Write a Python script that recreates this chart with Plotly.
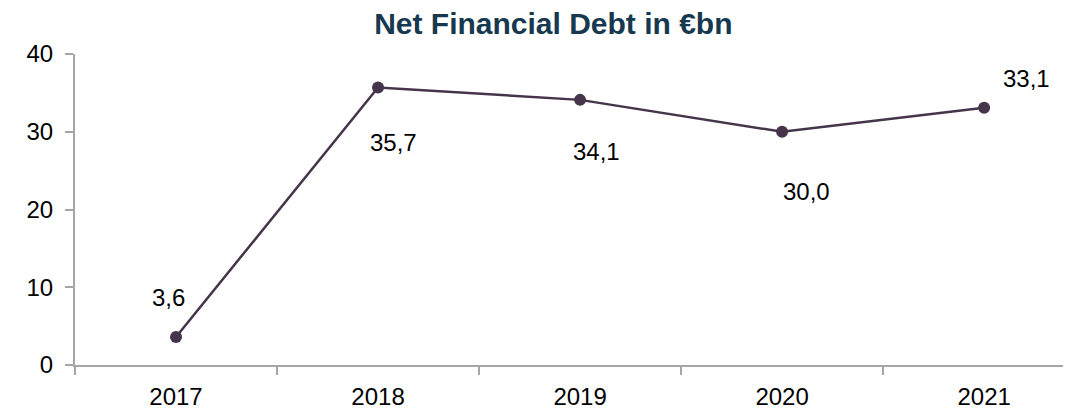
import plotly.graph_objects as go

years = ["2017", "2018", "2019", "2020", "2021"]
debt = [3.6, 35.7, 34.1, 30.0, 33.1]
labels = ["3,6", "35,7", "34,1", "30,0", "33,1"]
label_dx = [-8, 15, 16, 24, 42]
label_dy = [-40, 55, 52, 60, -29]

line_color = "#45344A"
axis_color = "#A6A6A6"
font_family = "Liberation Sans, Arial, sans-serif"

fig = go.Figure()
fig.add_trace(go.Scatter(
    x=years, y=debt, mode="lines+markers",
    line=dict(color=line_color, width=2.5),
    marker=dict(color=line_color, size=12),
    hoverinfo="skip", showlegend=False,
))

annotations = []
for i, (yv, t, dx, dy) in enumerate(zip(debt, labels, label_dx, label_dy)):
    annotations.append(dict(
        x=i, y=yv, xref="x", yref="y", text=t, showarrow=False,
        xshift=dx, yshift=-dy, xanchor="center", yanchor="middle",
        font=dict(size=24, color="#000000", family=font_family)))

fig.update_layout(
    width=1063, height=401,
    margin=dict(l=67, r=0, t=46, b=44, autoexpand=False),
    paper_bgcolor="white", plot_bgcolor="white",
    title=dict(text="<b>Net Financial Debt in €bn</b>", x=0.513, xanchor="center",
               y=0.962, yanchor="middle",
               font=dict(size=30, color="#17394F", family=font_family)),
    font=dict(family=font_family, size=24, color="#000000"),
    annotations=annotations,
)
fig.update_xaxes(
    type="category", range=[-0.5, 4.43], tickson="boundaries",
    showline=True, linecolor=axis_color, linewidth=2,
    ticks="outside", ticklen=8, tickcolor=axis_color, tickwidth=2,
    ticklabelstandoff=9,
    showgrid=False, zeroline=False,
    tickfont=dict(size=24, family=font_family, color="#000000"),
)
fig.update_yaxes(
    range=[0, 40], tickvals=[0, 10, 20, 30, 40],
    showline=True, linecolor=axis_color, linewidth=2,
    ticks="outside", ticklen=8, tickcolor=axis_color, tickwidth=2,
    ticklabelstandoff=7,
    showgrid=False, zeroline=False,
    tickfont=dict(size=24, family=font_family, color="#000000"),
)

fig.write_html("out.html")
